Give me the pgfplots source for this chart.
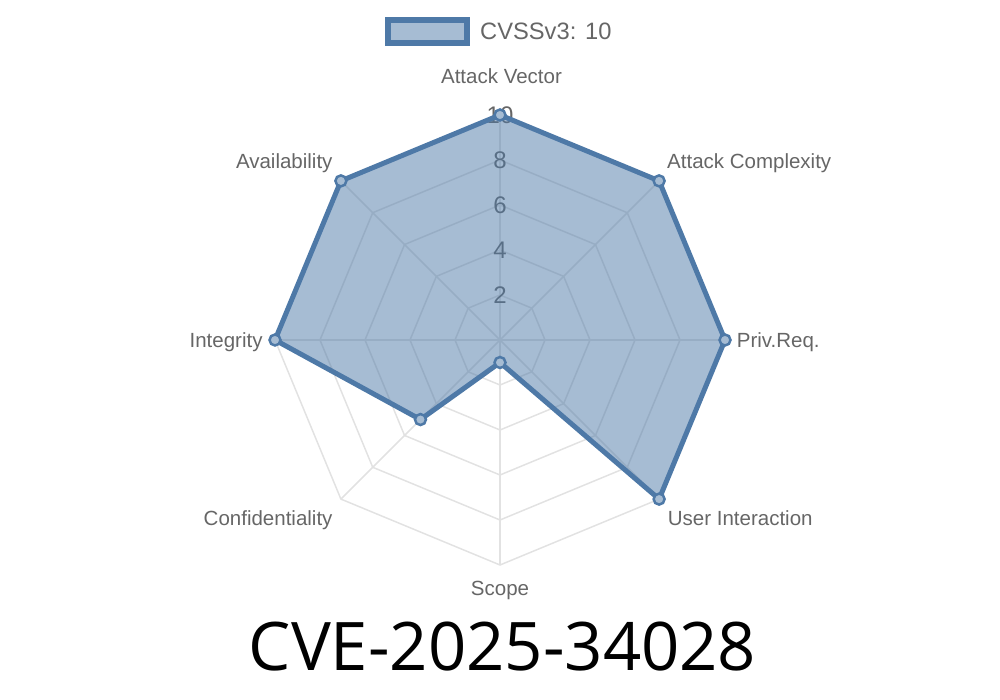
\documentclass[border=0pt]{standalone}
\usepackage{pgfplots}
\pgfplotsset{compat=1.18}
\usepackage{fontspec}
\setmainfont{Liberation Sans}
\newfontfamily\titlefont{Open Sans}
\definecolor{cvss}{HTML}{4E79A7}
\definecolor{cvsslight}{HTML}{A6BCD3}
\definecolor{gridc}{HTML}{E2E2E2}
\definecolor{labc}{HTML}{666666}

\begin{document}
\begin{tikzpicture}
\begin{axis}[x=22.5pt, y=22.5pt,
  xmin=-22.2222, xmax=22.2222, ymin=-16, ymax=15.1111,
  hide axis, clip=false]
\draw[draw=none] (rel axis cs:0,0) rectangle (rel axis cs:1,1);
% grid polygons
\pgfplotsinvokeforeach{2,4,6,8,10}{
  \addplot[data cs=polar, draw=gridc, line width=1.5pt, mark=none, line join=miter]
    coordinates {(90,#1)(45,#1)(0,#1)(-45,#1)(-90,#1)(-135,#1)(180,#1)(135,#1)} -- cycle;
}
% spokes
\pgfplotsinvokeforeach{90,45,0,-45,-90,-135,180,135}{
  \addplot[data cs=polar, draw=gridc, line width=1.5pt, mark=none]
    coordinates {(#1,0)(#1,10)};
}
% tick labels
\pgfplotsinvokeforeach{2,4,6,8,10}{
  \node[text=labc, inner sep=0pt, font=\fontsize{24}{24}\selectfont] at (axis cs:0,#1) {#1};
}
% data
\addplot[data cs=polar, draw=cvss, line width=5pt, fill=cvss, fill opacity=0.5,
  line join=miter, mark=*, mark size=5.5pt,
  mark options={fill=cvsslight, fill opacity=1, draw=cvss, line width=2.5pt}]
  coordinates {(90,10)(45,10)(0,10)(-45,10)(-90,1)(-135,5)(180,10)(135,10)} -- cycle;
\coordinate (c) at (axis cs:0,0);
\end{axis}
% point labels
\begin{scope}[every node/.style={inner sep=0pt, text=labc, font=\fontsize{20.5}{24}\selectfont}]
\node[anchor=base] at ([shift={(1.5pt,256.7pt)}]c) {Attack Vector};
\node[anchor=base west] at ([shift={(167pt,171.7pt)}]c) {Attack Complexity};
\node[anchor=base west] at ([shift={(236.7pt,-7.3pt)}]c) {Priv.Req.};
\node[anchor=base west] at ([shift={(167.7pt,-185.7pt)}]c) {User Interaction};
\node[anchor=base] at ([shift={(0pt,-255.3pt)}]c) {Scope};
\node[anchor=base east] at ([shift={(-167.3pt,-185.7pt)}]c) {Confidentiality};
\node[anchor=base east] at ([shift={(-237.3pt,-7.3pt)}]c) {Integrity};
\node[anchor=base east] at ([shift={(-167.3pt,171.7pt)}]c) {Availability};
\end{scope}
% legend
\draw[cvss, line width=6pt, fill=cvsslight] ([shift={(-112pt,320pt)}]c) rectangle ([shift={(-33pt,297pt)}]c);
\node[anchor=base west, inner sep=0pt, text=labc, font=\fontsize{23.7}{28}\selectfont] at ([shift={(-20pt,300pt)}]c) {CVSSv3: 10};
% title
\node[anchor=base, inner sep=0pt, font=\titlefont\fontsize{67}{70}\selectfont] at ([shift={(2.5pt,-330.7pt)}]c) {CVE-2025-34028};
\end{tikzpicture}
\end{document}
